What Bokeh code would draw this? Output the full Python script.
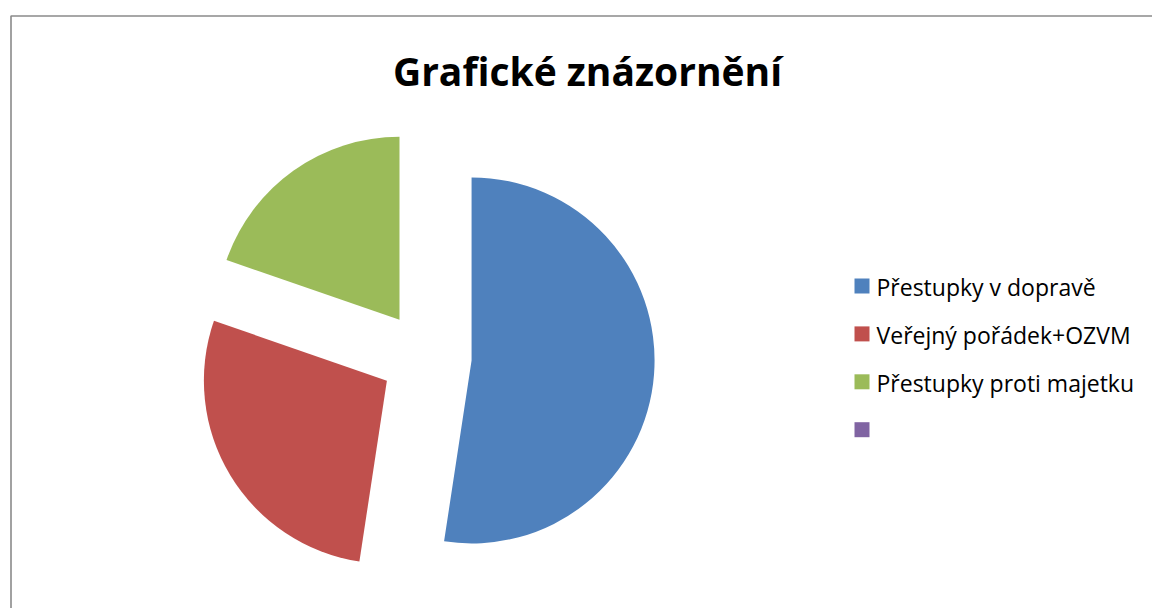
import math
from bokeh.plotting import figure
from bokeh.models import Range1d, ColumnDataSource
from bokeh.core.properties import value
from bokeh.embed import file_html
from bokeh.resources import INLINE

# ---- data ----
categories = ["Přestupky v dopravě", "Veřejný pořádek+OZVM", "Přestupky proti majetku", ""]
shares = [52.4, 27.9, 19.7, 0.0]
colors = ["#4F81BD", "#C0504D", "#9BBB59", "#8064A2"]
title_text = "Grafické znázornění"

W, H = 1152, 608
p = figure(width=W, height=H, output_backend="svg", toolbar_location=None,
           x_range=Range1d(0, W), y_range=Range1d(0, H),
           min_border=0, min_border_left=0, min_border_right=0,
           min_border_top=0, min_border_bottom=0)
p.axis.visible = False
p.grid.visible = False
p.outline_line_color = None
p.background_fill_color = "white"
p.border_fill_color = "white"

# frame of the chart area
p.line(x=[10.5, 10.5, W], y=[0, H - 15.5, H - 15.5], line_color="#8a8a8a", line_width=1.6)

# ---- pie ----
cx, cy = 425.5, H - 356.5
radius = 183
explode = 45.7
total = sum(shares)
xs, ys, starts, ends, cols = [], [], [], [], []
cum = 0.0
for s, c in zip(shares, colors):
    if s <= 0:
        continue
    a0 = cum / total * 2 * math.pi
    a1 = (cum + s) / total * 2 * math.pi
    mid = (a0 + a1) / 2
    xs.append(cx + explode * math.sin(mid))
    ys.append(cy + explode * math.cos(mid))
    starts.append(math.pi / 2 - a0)
    ends.append(math.pi / 2 - a1)
    cols.append(c)
    cum += s
src = ColumnDataSource(dict(x=xs, y=ys, start=starts, end=ends, color=cols))
p.wedge(x="x", y="y", radius=radius, start_angle="start", end_angle="end",
        direction="clock", fill_color="color", line_color=None, source=src)

# ---- title ----
p.text(x=[587], y=[H - 70], text=[title_text], text_font=value("Open Sans"),
       text_font_style="bold", text_font_size="39px", text_align="center",
       text_baseline="middle", text_color="black")

# ---- legend ----
lx, ly0, step = 861.5, H - 285.5, 47.9
leg_y = [ly0 - i * step for i in range(len(categories))]
p.scatter(x=[lx] * len(categories), y=leg_y, marker="square", size=15,
          fill_color=colors, line_color=None)
p.text(x=[876] * len(categories), y=[v - 1 for v in leg_y], text=categories,
       text_font=value("Open Sans"), text_font_size="23px", text_align="left",
       text_baseline="middle", text_color="black")

open("out.html", "w").write(file_html(p, INLINE))
